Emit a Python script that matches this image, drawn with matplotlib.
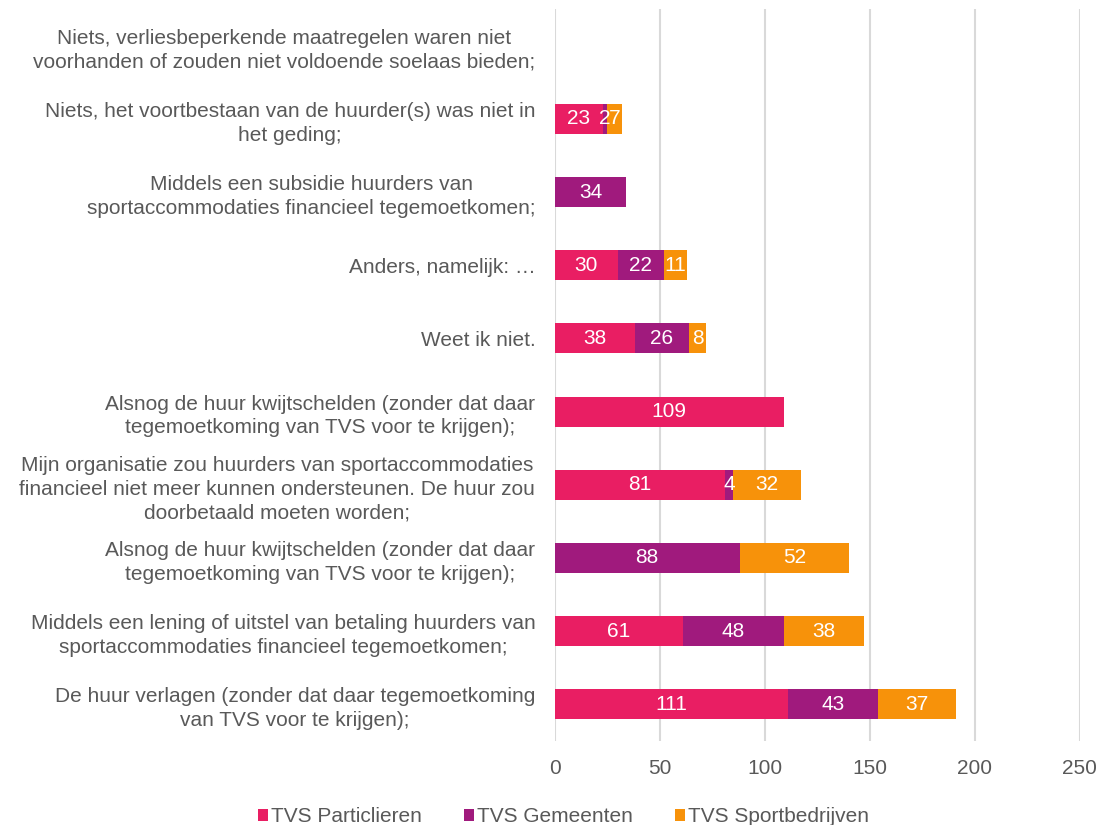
import matplotlib.pyplot as plt
import numpy as np

plt.rcParams['font.family'] = ['Liberation Sans', 'DejaVu Sans']

# Categories, top to bottom
categories = [
    "Niets, verliesbeperkende maatregelen waren niet\nvoorhanden of zouden niet voldoende soelaas bieden;",
    "Niets, het voortbestaan van de huurder(s) was niet in\nhet geding;",
    "Middels een subsidie huurders van\nsportaccommodaties financieel tegemoetkomen;",
    "Anders, namelijk: \u2026",
    "Weet ik niet.",
    "Alsnog de huur kwijtschelden (zonder dat daar\ntegemoetkoming van TVS voor te krijgen);",
    "Mijn organisatie zou huurders van sportaccommodaties\nfinancieel niet meer kunnen ondersteunen. De huur zou\ndoorbetaald moeten worden;",
    "Alsnog de huur kwijtschelden (zonder dat daar\ntegemoetkoming van TVS voor te krijgen);",
    "Middels een lening of uitstel van betaling huurders van\nsportaccommodaties financieel tegemoetkomen;",
    "De huur verlagen (zonder dat daar tegemoetkoming\nvan TVS voor te krijgen);",
]

particulieren = [0, 23, 0, 30, 38, 109, 81, 0, 61, 111]
gemeenten = [0, 2, 34, 22, 26, 0, 4, 88, 48, 43]
sportbedrijven = [0, 7, 0, 11, 8, 0, 32, 52, 38, 37]

series = [
    ("TVS Particlieren", particulieren, "#E91E63"),
    ("TVS Gemeenten", gemeenten, "#A01A7D"),
    ("TVS Sportbedrijven", sportbedrijven, "#F7920A"),
]

FS = 15

fig, ax = plt.subplots(figsize=(11.03, 8.25), dpi=100)
fig.subplots_adjust(left=0.503, right=0.979, bottom=0.102, top=0.989)

y = np.arange(len(categories))
left = np.zeros(len(categories))
for name, vals, color in series:
    vals = np.array(vals, dtype=float)
    bars = ax.barh(y, vals, left=left, height=0.41, color=color, label=name, zorder=3)
    for b, v in zip(bars, vals):
        if v > 0:
            ax.text(b.get_x() + b.get_width() / 2, b.get_y() + b.get_height() / 2,
                    f"{int(v)}", ha="center", va="center", color="white",
                    fontsize=FS, zorder=4)
    left += vals

ax.set_yticks(y)
ax.set_yticklabels(categories, fontsize=FS, color="#595959")
for lbl in ax.get_yticklabels():
    lbl.set_multialignment("center")
    lbl.set_linespacing(1.32)
ax.set_ylim(len(categories) - 0.5, -0.5)
ax.set_xlim(0, 250)
ax.set_xticks(range(0, 251, 50))
ax.tick_params(axis="x", labelsize=FS, labelcolor="#595959", length=0, pad=13)
ax.tick_params(axis="y", length=0, pad=14)
ax.xaxis.grid(True, color="#D9D9D9", linewidth=1.5, zorder=0)
for s in ax.spines.values():
    s.set_visible(False)

fig.legend(loc="lower center", bbox_to_anchor=(0.511, -0.024), ncol=3, frameon=False,
           fontsize=FS, labelcolor="#595959", handlelength=0.5, handleheight=0.5,
           handletextpad=0.15, columnspacing=2.0)

fig.savefig("out.png", dpi=100)
